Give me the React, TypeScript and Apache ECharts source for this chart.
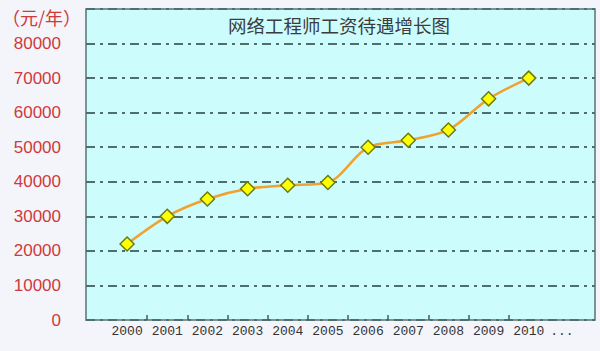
import React, { useEffect, useRef } from "react";
import * as echarts from "echarts";

const years = ["2000", "2001", "2002", "2003", "2004", "2005", "2006", "2007", "2008", "2009", "2010", "..."];
const salary = [22000, 30000, 35000, 38000, 39000, 39800, 50000, 52000, 55000, 64000, 70000, null];
const tickSlots = ["", "", "", "", "", "", "", "", "", "", "", "", ""];
const yMax = 90000;
const yStep = 10000;
const titleText = "网络工程师工资待遇增长图";
const unitText = "（元/年）";

export default function App() {
  const ref = useRef<HTMLDivElement>(null);
  useEffect(() => {
    document.body.style.margin = "0";
    const chart = echarts.init(ref.current!, null, { renderer: "svg" });
    const gridPos = { top: 9, bottom: 31 };
    chart.setOption({
      animation: false,
      backgroundColor: "#f3f5fa",
      grid: [
        { left: 86, right: 5, ...gridPos, show: true, backgroundColor: "#ccfcfc", borderColor: "#5a7272", borderWidth: 1.5 },
        { left: 107, right: 11, ...gridPos },
      ],
      xAxis: [
        { gridIndex: 0, type: "value", min: 0, max: 1, show: false },
        {
          gridIndex: 1,
          type: "category",
          position: "bottom",
          data: years,
          boundaryGap: true,
          axisLine: { show: false },
          axisTick: { show: false },
          axisLabel: {
            interval: 0,
            color: "#333",
            fontFamily: "Liberation Mono",
            fontSize: 13,
            margin: 5,
            formatter: (v: string) => (v === "..." ? "{d|...}" : v),
            rich: { d: { padding: [0, 14, 0, 0], fontFamily: "Liberation Mono", fontSize: 13, color: "#333" } },
          },
        },
        {
          gridIndex: 1,
          type: "category",
          position: "bottom",
          data: tickSlots,
          boundaryGap: false,
          axisLine: { show: false },
          axisLabel: { show: false },
          axisTick: {
            show: true,
            inside: true,
            length: 5,
            interval: (i: number) => i >= 1 && i <= 10,
            lineStyle: { color: "#4a5a5a", width: 1.5 },
          },
        },
      ],
      yAxis: [
        {
          gridIndex: 0,
          type: "value",
          min: 0,
          max: yMax,
          interval: yStep,
          axisLine: { show: false },
          axisTick: { show: false },
          axisLabel: {
            color: "#d0393b",
            fontSize: 17,
            fontFamily: "Liberation Sans",
            margin: 25,
            formatter: (v: number) => (v >= yMax ? "" : String(v)),
          },
          splitLine: {
            show: true,
            lineStyle: { color: "#4f6e6e", width: 2, type: [9, 5, 3, 5] },
          },
        },
        { gridIndex: 1, type: "value", min: 0, max: yMax, show: false },
      ],
      graphic: [
        {
          type: "text",
          left: 2,
          top: 8,
          style: { text: unitText, fill: "#d0393b", fontSize: 18, fontFamily: "Noto Sans CJK SC" },
        },
        {
          type: "text",
          x: 339,
          y: 25,
          style: {
            text: titleText,
            fill: "#3c3c3c",
            fontSize: 18.5,
            fontFamily: "Noto Sans CJK SC",
            textAlign: "center",
            textVerticalAlign: "middle",
          },
        },
      ],
      series: [
        {
          type: "line",
          xAxisIndex: 1,
          yAxisIndex: 1,
          data: salary,
          smooth: 0.3,
          symbol: "diamond",
          symbolSize: 14,
          lineStyle: { color: "#f0a22e", width: 2.5 },
          itemStyle: { color: "#ffff00", borderColor: "#6b7a12", borderWidth: 1.5 },
          z: 5,
        },
      ],
    });
    return () => chart.dispose();
  }, []);
  return <div ref={ref} style={{ width: 600, height: 351, position: "absolute", left: 0, top: 0 }} />;
}
